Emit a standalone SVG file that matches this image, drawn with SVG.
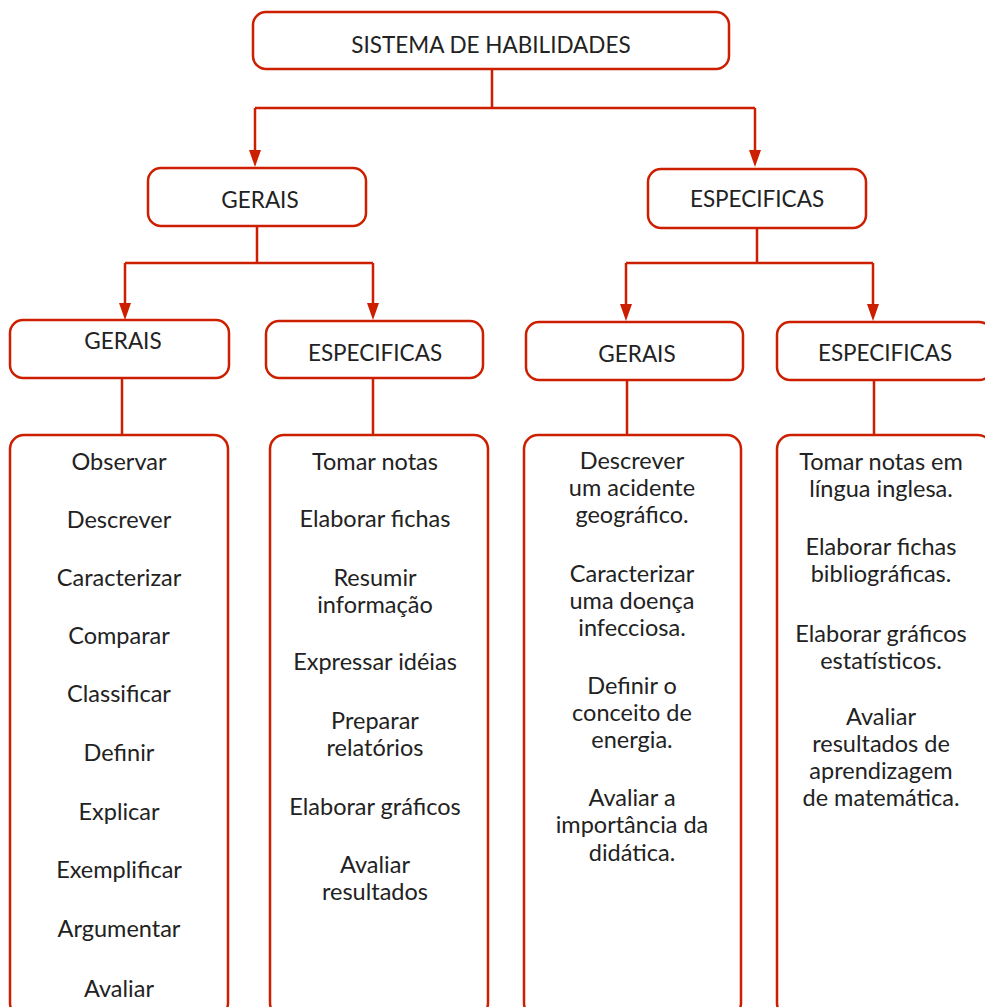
<svg xmlns="http://www.w3.org/2000/svg" width="985" height="1007" viewBox="0 0 985 1007">
<style>
.box{fill:#fff;stroke:#cc1f00;stroke-width:2.5}
.con{fill:none;stroke:#cc1f00;stroke-width:2.5}
text{font-family:Lato,"Open Sans","Liberation Sans",sans-serif;font-size:23.5px;fill:#222;text-anchor:middle}
.h{font-size:22.5px}
</style>
<g id="connectors">
<path class="con" d="M492,70 V108 M255,108 H755"/>
<path class="con" d="M255,108 V150" />
<path class="con" d="M755,108 V150"/>
<path d="M249,150 H261 L255,167 Z M749,150 H761 L755,167 Z" fill="#cc1f00"/>
<path class="con" d="M257,226 V263 M125,263 H373 M125,263 V303 M373,263 V303"/>
<path d="M119,303 H131 L125,320 Z M367,303 H379 L373,320 Z" fill="#cc1f00"/>
<path class="con" d="M757,228 V263 M626,263 H873 M626,263 V304 M873,263 V304"/>
<path d="M620,304 H632 L626,321 Z M867,304 H879 L873,321 Z" fill="#cc1f00"/>
<path class="con" d="M122,378 V435 M373,378 V435 M627,380 V435 M874,380 V435"/>
</g>
<g id="root"><rect class="box" x="253" y="12" width="476" height="57" rx="13"/><text x="491" y="53" class="h">SISTEMA DE HABILIDADES</text></g>
<g id="gerais1"><rect class="box" x="148" y="168" width="218" height="58" rx="13"/><text x="260" y="208" class="h">GERAIS</text></g>
<g id="espec1"><rect class="box" x="648" y="169" width="218" height="59" rx="13"/><text x="757" y="207" class="h">ESPECIFICAS</text></g>
<g id="gerais2a"><rect class="box" x="10" y="320" width="219" height="58" rx="13"/><text x="123" y="349" class="h">GERAIS</text></g>
<g id="espec2a"><rect class="box" x="266" y="321" width="217" height="57" rx="13"/><text x="375" y="361" class="h">ESPECIFICAS</text></g>
<g id="gerais2b"><rect class="box" x="526" y="322" width="217" height="58" rx="13"/><text x="637" y="362" class="h">GERAIS</text></g>
<g id="espec2b"><rect class="box" x="777" y="322" width="215" height="58" rx="13"/><text x="885" y="361" class="h">ESPECIFICAS</text></g>
<g id="list1"><rect class="box" x="10" y="435" width="218" height="582" rx="14"/>
<text x="119" y="470">Observar</text>
<text x="119" y="528">Descrever</text>
<text x="119" y="586">Caracterizar</text>
<text x="119" y="644">Comparar</text>
<text x="119" y="702">Classificar</text>
<text x="119" y="761">Definir</text>
<text x="119" y="820">Explicar</text>
<text x="119" y="878">Exemplificar</text>
<text x="119" y="937">Argumentar</text>
<text x="119" y="997">Avaliar</text>
</g>
<g id="list2"><rect class="box" x="270" y="435" width="218" height="582" rx="14"/>
<text x="375" y="470">Tomar notas</text>
<text x="375" y="527">Elaborar fichas</text>
<text x="375" y="586">Resumir</text>
<text x="375" y="613">informação</text>
<text x="375" y="670">Expressar idéias</text>
<text x="375" y="729">Preparar</text>
<text x="375" y="756">relatórios</text>
<text x="375" y="815">Elaborar gráficos</text>
<text x="375" y="873">Avaliar</text>
<text x="375" y="900">resultados</text>
</g>
<g id="list3"><rect class="box" x="524" y="435" width="217" height="582" rx="14"/>
<text x="632" y="469">Descrever</text>
<text x="632" y="496">um acidente</text>
<text x="632" y="523">geográfico.</text>
<text x="632" y="582">Caracterizar</text>
<text x="632" y="609">uma doença</text>
<text x="632" y="636">infecciosa.</text>
<text x="632" y="694">Definir o</text>
<text x="632" y="721">conceito de</text>
<text x="632" y="748">energia.</text>
<text x="632" y="806">Avaliar a</text>
<text x="632" y="833">importância da</text>
<text x="632" y="861">didática.</text>
</g>
<g id="list4"><rect class="box" x="777" y="435" width="215" height="582" rx="14"/>
<text x="881" y="470">Tomar notas em</text>
<text x="881" y="497">língua inglesa.</text>
<text x="881" y="555">Elaborar fichas</text>
<text x="881" y="582">bibliográficas.</text>
<text x="881" y="642">Elaborar gráficos</text>
<text x="881" y="669">estatísticos.</text>
<text x="881" y="725">Avaliar</text>
<text x="881" y="752">resultados de</text>
<text x="881" y="779">aprendizagem</text>
<text x="881" y="806">de matemática.</text>
</g>
</svg>
